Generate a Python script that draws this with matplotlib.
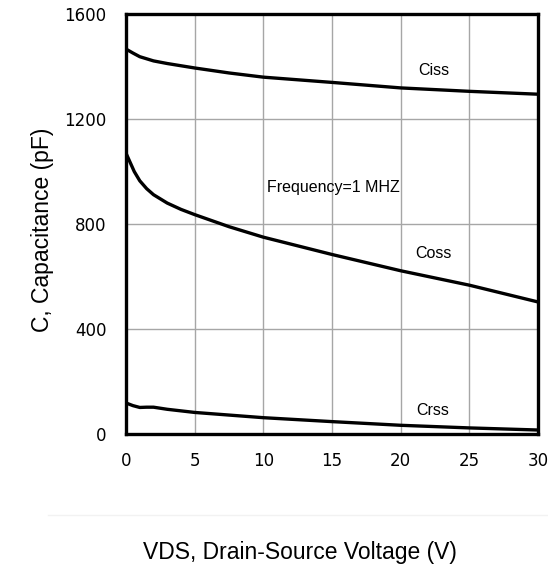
import matplotlib.pyplot as plt
from matplotlib.lines import Line2D

# values
vds_ciss = [0, 0.5, 1, 2, 3, 5, 7.5, 10, 15, 20, 25, 30]
ciss = [1467, 1452, 1438, 1422, 1412, 1395, 1376, 1360, 1340, 1319, 1306, 1295]

vds_coss = [0, 0.3, 0.6, 1, 1.5, 2, 3, 4, 5, 7.5, 10, 15, 20, 25, 30]
coss = [1070, 1035, 1000, 965, 935, 912, 880, 856, 836, 790, 750, 684, 622, 567, 503]

vds_crss = [0, 0.5, 1, 1.5, 2, 3, 5, 7.5, 10, 15, 20, 25, 30]
crss = [118, 108, 101, 102, 102, 94, 82, 72, 62, 47, 33, 23, 15]

x_ticks = [0, 5, 10, 15, 20, 25, 30]
y_ticks = [0, 400, 800, 1200, 1600]

tick_font = ['Liberation Sans Narrow', 'DejaVu Sans']
label_font = ['Liberation Sans', 'DejaVu Sans']

fig = plt.figure(figsize=(5.48, 5.68), dpi=100)
ax = fig.add_axes([0.23, 0.236, 0.752, 0.739])

ax.plot(vds_ciss, ciss, color='black', lw=2.4)
ax.plot(vds_coss, coss, color='black', lw=2.4)
ax.plot(vds_crss, crss, color='black', lw=2.4)

ax.set_xlim(0, 30)
ax.set_ylim(0, 1600)
ax.set_xticks(x_ticks)
ax.set_yticks(y_ticks)
ax.grid(True, color='#a6a6a6', lw=1)
ax.set_axisbelow(True)
ax.tick_params(length=0, labelsize=12)
ax.tick_params(axis='x', pad=13)
ax.tick_params(axis='y', pad=14)
for lab in ax.get_xticklabels() + ax.get_yticklabels():
    lab.set_family(tick_font)
for s in ax.spines.values():
    s.set_linewidth(2.4)

ax.text(22.4, 1387, 'Ciss', ha='center', va='center', fontsize=11.5, family=label_font)
ax.text(15.1, 941, 'Frequency=1 MHZ', ha='center', va='center', fontsize=11.5, family=label_font)
ax.text(22.4, 686, 'Coss', ha='center', va='center', fontsize=11.5, family=label_font)
ax.text(22.3, 88, 'Crss', ha='center', va='center', fontsize=11.5, family=label_font)

fig.text(43 / 548, 1 - 230 / 568, 'C, Capacitance (pF)', rotation=90,
         ha='center', va='center', fontsize=16.5, family=label_font)
fig.text(300 / 548, 1 - 552 / 568, 'VDS, Drain-Source Voltage (V)',
         ha='center', va='center', fontsize=16.5, family=label_font)
fig.add_artist(Line2D([48 / 548, 1], [1 - 515 / 568] * 2, color='#f2f2f2', lw=1))

fig.savefig('out.png', dpi=100)
